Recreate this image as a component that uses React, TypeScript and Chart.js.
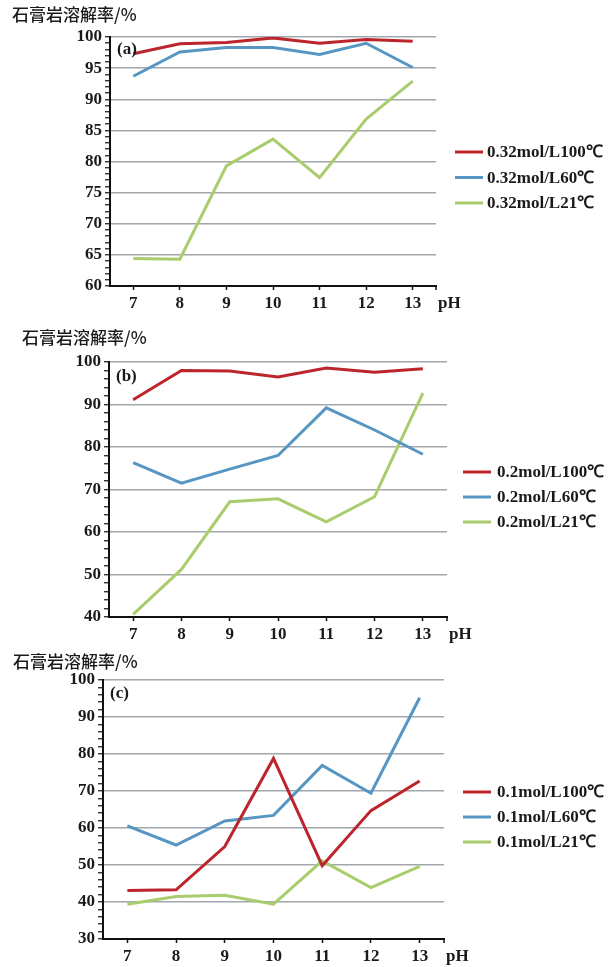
import React, { useEffect, useRef } from 'react';
import { Chart, registerables } from 'chart.js';

Chart.register(...registerables);

// pH categories shared by all three panels
const PH = ['7', '8', '9', '10', '11', '12', '13'];

const Y_TITLE = '石膏岩溶解率/%';
const X_UNIT = 'pH';

// (a) 0.32 mol/L
const A_LABELS = ['0.32mol/L100℃', '0.32mol/L60℃', '0.32mol/L21℃'];
const A_T100 = [97.3, 98.9, 99.1, 99.85, 99.0, 99.6, 99.3];
const A_T60 = [93.7, 97.6, 98.3, 98.3, 97.2, 99.0, 95.1];
const A_T21 = [64.4, 64.3, 79.3, 83.6, 77.4, 86.8, 92.9];

// (b) 0.2 mol/L
const B_LABELS = ['0.2mol/L100℃', '0.2mol/L60℃', '0.2mol/L21℃'];
const B_T100 = [91.1, 98.0, 97.9, 96.5, 98.6, 97.6, 98.4];
const B_T60 = [76.3, 71.5, 74.8, 78.0, 89.2, 84.0, 78.3];
const B_T21 = [40.6, 51.2, 67.1, 67.8, 62.4, 68.3, 92.7];

// (c) 0.1 mol/L
const C_LABELS = ['0.1mol/L100℃', '0.1mol/L60℃', '0.1mol/L21℃'];
const C_T100 = [43.1, 43.3, 55.0, 78.8, 49.8, 64.7, 72.7];
const C_T60 = [60.6, 55.4, 61.9, 63.4, 76.9, 69.4, 95.2];
const C_T21 = [39.4, 41.5, 41.8, 39.4, 51.1, 43.9, 49.6];

const COLORS = ['#bd252c', '#5796c3', '#a9cd6d'];
const GRID = '#a2a7ad';
const SERIF = '"Liberation Serif", "Times New Roman", serif';
const CJK = '"Noto Sans CJK SC", sans-serif';

type Panel = {
  tag: string;
  top: number;
  height: number;
  area: { left: number; right: number; top: number; bottom: number };
  yMin: number;
  yMax: number;
  major: number;
  minor: number;
  labels: string[];
  series: number[][];
  titlePos: { x: number; y: number };
  tagDy: number;
  legend: { lineX: number; textX: number; y0: number; step: number };
};

const PANELS: Panel[] = [
  {
    tag: '(a)',
    top: 0,
    height: 330,
    area: { left: 110, right: 436, top: 37, bottom: 286 },
    yMin: 60,
    yMax: 100,
    major: 5,
    minor: 1,
    labels: A_LABELS,
    series: [A_T100, A_T60, A_T21],
    titlePos: { x: 12, y: 15 },
    tagDy: 35,
    legend: { lineX: 455, textX: 487, y0: 152, step: 25.5 },
  },
  {
    tag: '(b)',
    top: 316,
    height: 340,
    area: { left: 109, right: 447, top: 46, bottom: 301 },
    yMin: 40,
    yMax: 100,
    major: 10,
    minor: 2,
    labels: B_LABELS,
    series: [B_T100, B_T60, B_T21],
    titlePos: { x: 22, y: 22 },
    tagDy: 39,
    legend: { lineX: 463, textX: 497, y0: 156, step: 25 },
  },
  {
    tag: '(c)',
    top: 640,
    height: 327,
    area: { left: 103, right: 444, top: 40, bottom: 299 },
    yMin: 30,
    yMax: 100,
    major: 10,
    minor: 2,
    labels: C_LABELS,
    series: [C_T100, C_T60, C_T21],
    titlePos: { x: 13, y: 22 },
    tagDy: 32,
    legend: { lineX: 463, textX: 497, y0: 152, step: 25 },
  },
];

const WIDTH = 616;
const Y_AXIS_W = 48;
const X_AXIS_H = 28;
const X_TICK_LEN = 4;
const X_TICK_PAD = 3;

function PanelChart({ p }: { p: Panel }) {
  const ref = useRef<HTMLCanvasElement | null>(null);

  useEffect(() => {
    const canvas = ref.current;
    if (!canvas) return;

    const decorations = {
      id: 'panelDecorations',
      afterDraw(chart: any) {
        const ctx = chart.ctx as CanvasRenderingContext2D;
        const area = chart.chartArea;
        ctx.save();

        // y title across the top-left
        ctx.fillStyle = '#1a1a1a';
        ctx.font = `500 17px ${CJK}`;
        ctx.textAlign = 'left';
        ctx.textBaseline = 'middle';
        ctx.fillText(Y_TITLE, p.titlePos.x, p.titlePos.y);

        // panel tag inside the plot
        ctx.font = `bold 17px ${SERIF}`;
        ctx.fillText(p.tag, area.left + 7, p.titlePos.y + p.tagDy);

        // end tick of the x axis and unit label on the tick-label line
        ctx.strokeStyle = '#111';
        ctx.lineWidth = 1.5;
        ctx.beginPath();
        ctx.moveTo(area.right, area.bottom);
        ctx.lineTo(area.right, area.bottom + X_TICK_LEN);
        ctx.stroke();
        const items = chart.scales.x.getLabelItems();
        const first = items && items[0];
        ctx.font = `bold 17px ${SERIF}`;
        if (first) {
          ctx.textBaseline = first.options.textBaseline || 'middle';
          ctx.fillText(X_UNIT, area.right + 2, first.options.translation[1] + (first.textOffset || 0));
        }

        // legend
        chart.data.datasets.forEach((ds: any, i: number) => {
          const y = p.legend.y0 + i * p.legend.step;
          ctx.strokeStyle = ds.borderColor;
          ctx.lineWidth = 3;
          ctx.beginPath();
          ctx.moveTo(p.legend.lineX, y);
          ctx.lineTo(p.legend.lineX + 28, y);
          ctx.stroke();
          ctx.fillStyle = '#1a1a1a';
          ctx.font = `bold 17px ${SERIF}`;
          ctx.textBaseline = 'middle';
          ctx.fillText(ds.label, p.legend.textX, y + 1);
        });
        ctx.restore();
      },
    };

    const isMajor = (v: number) => Math.abs(v / p.major - Math.round(v / p.major)) < 1e-6;

    const chart = new Chart(canvas, {
      type: 'line',
      data: {
        labels: PH,
        datasets: p.series.map((vals, i) => ({
          label: p.labels[i],
          data: vals,
          borderColor: COLORS[i],
          backgroundColor: COLORS[i],
          borderWidth: 3,
          pointRadius: 0,
          tension: 0,
          fill: false,
        })),
      },
      options: {
        responsive: false,
        animation: false,
        devicePixelRatio: 1,
        layout: {
          padding: {
            left: p.area.left - Y_AXIS_W,
            right: WIDTH - p.area.right,
            top: p.area.top,
            bottom: p.height - p.area.bottom - X_AXIS_H,
          },
        },
        plugins: {
          legend: { display: false },
          title: { display: false },
          tooltip: { enabled: false },
        },
        scales: {
          x: {
            type: 'category',
            offset: true,
            afterFit: (s: any) => {
              s.height = X_AXIS_H;
            },
            grid: {
              offset: false,
              drawOnChartArea: false,
              drawTicks: true,
              tickLength: X_TICK_LEN,
              tickColor: '#111',
              tickWidth: 1.5,
            },
            border: { display: true, color: '#111', width: 2 },
            ticks: {
              color: '#1a1a1a',
              padding: X_TICK_PAD,
              maxRotation: 0,
              autoSkip: false,
              font: { family: SERIF, size: 17, weight: 'bold' },
            },
          },
          y: {
            min: p.yMin,
            max: p.yMax,
            afterFit: (s: any) => {
              s.width = Y_AXIS_W;
            },
            grid: {
              drawTicks: true,
              tickLength: 5,
              color: (c: any) => (c.tick && isMajor(c.tick.value) && c.tick.value !== p.yMin ? GRID : 'rgba(0,0,0,0)'),
              lineWidth: 1.5,
              tickColor: '#111',
              tickWidth: 1.2,
            },
            border: { display: true, color: '#111', width: 2 },
            ticks: {
              stepSize: p.minor,
              autoSkip: false,
              padding: 3,
              color: '#1a1a1a',
              font: { family: SERIF, size: 17, weight: 'bold' },
              callback: (v: any) => (isMajor(Number(v)) ? String(v) : ''),
            },
          },
        },
      },
      plugins: [decorations],
    } as any);

    return () => chart.destroy();
  }, [p]);

  return (
    <canvas
      ref={ref}
      width={WIDTH}
      height={p.height}
      style={{ position: 'absolute', left: 0, top: p.top, width: WIDTH, height: p.height }}
    />
  );
}

export default function App() {
  return (
    <div style={{ position: 'absolute', left: 0, top: 0, width: WIDTH, height: 967, background: '#fff' }}>
      {PANELS.map((p) => (
        <PanelChart key={p.tag} p={p} />
      ))}
    </div>
  );
}
